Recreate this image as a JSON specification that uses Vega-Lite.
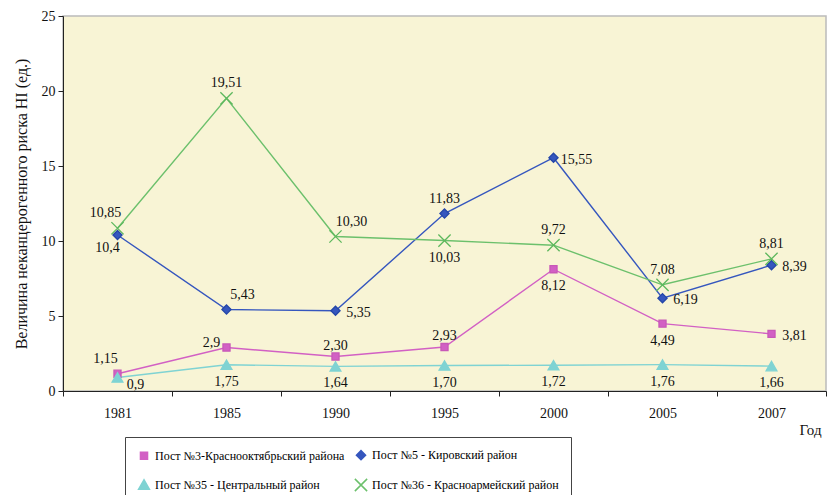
{
  "$schema": "https://vega.github.io/schema/vega-lite/v6.json",
  "width": 763,
  "height": 375,
  "autosize": {"type": "none"},
  "padding": {"left": 63, "top": 16, "right": 1, "bottom": 104},
  "background": "white",
  "config": {
    "font": "Liberation Serif, Times New Roman, serif",
    "view": {"fill": "#F8F4D5", "stroke": "#BBBBBB", "strokeWidth": 1.5},
    "text": {"font": "Liberation Serif, Times New Roman, serif"},
    "axis": {"labelFont": "Liberation Serif, Times New Roman, serif", "titleFont": "Liberation Serif, Times New Roman, serif", "labelColor": "#111", "titleColor": "#111", "domainColor": "#222", "tickColor": "#222", "labelFontSize": 14, "titleFontSize": 14, "titleFontWeight": "normal", "grid": false},
    "legend": {"labelFont": "Liberation Serif, Times New Roman, serif"}
  },
  "data": {"values": [
    {"year": "1981", "post": "3", "series": "Пост №3-Краснооктябрьский района", "value": 1.15, "label": "1,15"},
    {"year": "1985", "post": "3", "series": "Пост №3-Краснооктябрьский района", "value": 2.9, "label": "2,9"},
    {"year": "1990", "post": "3", "series": "Пост №3-Краснооктябрьский района", "value": 2.30, "label": "2,30"},
    {"year": "1995", "post": "3", "series": "Пост №3-Краснооктябрьский района", "value": 2.93, "label": "2,93"},
    {"year": "2000", "post": "3", "series": "Пост №3-Краснооктябрьский района", "value": 8.12, "label": "8,12"},
    {"year": "2005", "post": "3", "series": "Пост №3-Краснооктябрьский района", "value": 4.49, "label": "4,49"},
    {"year": "2007", "post": "3", "series": "Пост №3-Краснооктябрьский района", "value": 3.81, "label": "3,81"},
    {"year": "1981", "post": "5", "series": "Пост №5 - Кировский район", "value": 10.4, "label": "10,4"},
    {"year": "1985", "post": "5", "series": "Пост №5 - Кировский район", "value": 5.43, "label": "5,43"},
    {"year": "1990", "post": "5", "series": "Пост №5 - Кировский район", "value": 5.35, "label": "5,35"},
    {"year": "1995", "post": "5", "series": "Пост №5 - Кировский район", "value": 11.83, "label": "11,83"},
    {"year": "2000", "post": "5", "series": "Пост №5 - Кировский район", "value": 15.55, "label": "15,55"},
    {"year": "2005", "post": "5", "series": "Пост №5 - Кировский район", "value": 6.19, "label": "6,19"},
    {"year": "2007", "post": "5", "series": "Пост №5 - Кировский район", "value": 8.39, "label": "8,39"},
    {"year": "1981", "post": "35", "series": "Пост №35 - Центральный район", "value": 0.9, "label": "0,9"},
    {"year": "1985", "post": "35", "series": "Пост №35 - Центральный район", "value": 1.75, "label": "1,75"},
    {"year": "1990", "post": "35", "series": "Пост №35 - Центральный район", "value": 1.64, "label": "1,64"},
    {"year": "1995", "post": "35", "series": "Пост №35 - Центральный район", "value": 1.70, "label": "1,70"},
    {"year": "2000", "post": "35", "series": "Пост №35 - Центральный район", "value": 1.72, "label": "1,72"},
    {"year": "2005", "post": "35", "series": "Пост №35 - Центральный район", "value": 1.76, "label": "1,76"},
    {"year": "2007", "post": "35", "series": "Пост №35 - Центральный район", "value": 1.66, "label": "1,66"},
    {"year": "1981", "post": "36", "series": "Пост №36 - Красноармейский район", "value": 10.85, "label": "10,85"},
    {"year": "1985", "post": "36", "series": "Пост №36 - Красноармейский район", "value": 19.51, "label": "19,51"},
    {"year": "1990", "post": "36", "series": "Пост №36 - Красноармейский район", "value": 10.30, "label": "10,30"},
    {"year": "1995", "post": "36", "series": "Пост №36 - Красноармейский район", "value": 10.03, "label": "10,03"},
    {"year": "2000", "post": "36", "series": "Пост №36 - Красноармейский район", "value": 9.72, "label": "9,72"},
    {"year": "2005", "post": "36", "series": "Пост №36 - Красноармейский район", "value": 7.08, "label": "7,08"},
    {"year": "2007", "post": "36", "series": "Пост №36 - Красноармейский район", "value": 8.81, "label": "8,81"}
  ]},
  "encoding": {
    "x": {"field": "year", "type": "ordinal", "sort": null,
      "scale": {"type": "band", "paddingInner": 0, "paddingOuter": 0},
      "axis": {"title": "Год", "labelAngle": 0, "tickBand": "extent", "tickSize": 5, "labelPadding": 10, "titleX": 736, "titleY": 38, "titleAlign": "left", "titleBaseline": "middle", "titleFontSize": 15}},
    "y": {"field": "value", "type": "quantitative",
      "scale": {"domain": [0, 25], "nice": false},
      "axis": {"title": "Величина неканцерогенного риска HI (ед.)", "values": [0, 5, 10, 15, 20, 25], "tickSize": 5, "labelPadding": 3, "titlePadding": 12, "titleFontSize": 16}}
  },
  "layer": [
    {
      "mark": {"type": "line", "strokeWidth": 1.4},
      "encoding": {
        "color": {"field": "series", "type": "nominal",
          "scale": {"domain": ["Пост №3-Краснооктябрьский района", "Пост №5 - Кировский район", "Пост №35 - Центральный район", "Пост №36 - Красноармейский район"],
                    "range": ["#D260C4", "#3556BE", "#7FD3D3", "#6CC06C"]},
          "legend": {"title": null, "orient": "none", "legendX": 62, "legendY": 421, "columns": 2, "direction": "horizontal",
            "strokeColor": "#444", "padding": 12, "labelFontSize": 12, "labelLimit": 400, "symbolSize": 90, "rowPadding": 12, "columnPadding": 6, "symbolStrokeWidth": 1.5}}
      }
    },
    {
      "mark": {"type": "point", "filled": true, "opacity": 1, "strokeWidth": 1.3},
      "encoding": {
        "color": {"field": "series", "type": "nominal"},
        "shape": {"field": "series", "type": "nominal",
          "scale": {"domain": ["Пост №3-Краснооктябрьский района", "Пост №5 - Кировский район", "Пост №35 - Центральный район", "Пост №36 - Красноармейский район"],
                    "range": ["square", "diamond", "triangle-up", "M-1,-1L1,1M-1,1L1,-1"]}},
        "stroke": {"field": "series", "type": "nominal",
          "scale": {"domain": ["Пост №3-Краснооктябрьский района", "Пост №5 - Кировский район", "Пост №35 - Центральный район", "Пост №36 - Красноармейский район"],
                    "range": ["#C858B8", "#2446A8", "#7FD3D3", "#5DB85D"]}},
        "size": {"field": "series", "type": "nominal",
          "scale": {"domain": ["Пост №3-Краснооктябрьский района", "Пост №5 - Кировский район", "Пост №35 - Центральный район", "Пост №36 - Красноармейский район"],
                    "range": [50, 150, 110, 200]}}
      }
    },
    {
      "transform": [{"filter": "(datum.post == '36' && (datum.year == '1985' || datum.year == '2000' || datum.year == '2005' || datum.year == '2007')) || (datum.post == '5' && datum.year == '1995')"}],
      "mark": {"type": "text", "fontSize": 14, "dy": -15, "color": "#111"},
      "encoding": {"text": {"field": "label"}}
    },
    {
      "transform": [{"filter": "datum.post == '3' && (datum.year == '1990' || datum.year == '1995')"}],
      "mark": {"type": "text", "fontSize": 14, "dy": -11, "color": "#111"},
      "encoding": {"text": {"field": "label"}}
    },
    {
      "transform": [{"filter": "(datum.post == '36' || datum.post == '3') && datum.year == '1981'"}],
      "mark": {"type": "text", "fontSize": 14, "dx": -12, "dy": -15, "color": "#111"},
      "encoding": {"text": {"field": "label"}}
    },
    {
      "transform": [{"filter": "(datum.post == '36' && datum.year == '1990') || (datum.post == '5' && datum.year == '1985')"}],
      "mark": {"type": "text", "fontSize": 14, "dx": 16, "dy": -15, "color": "#111"},
      "encoding": {"text": {"field": "label"}}
    },
    {
      "transform": [{"filter": "(datum.post == '36' && datum.year == '1995') || (datum.post == '3' && (datum.year == '2000' || datum.year == '2005')) || (datum.post == '35' && datum.year != '1981')"}],
      "mark": {"type": "text", "fontSize": 14, "dy": 17, "color": "#111"},
      "encoding": {"text": {"field": "label"}}
    },
    {
      "transform": [{"filter": "datum.post == '5' && datum.year == '1981'"}],
      "mark": {"type": "text", "fontSize": 14, "dx": -10, "dy": 13, "color": "#111"},
      "encoding": {"text": {"field": "label"}}
    },
    {
      "transform": [{"filter": "datum.post == '35' && datum.year == '1981'"}],
      "mark": {"type": "text", "fontSize": 14, "dx": 18, "dy": 7, "color": "#111"},
      "encoding": {"text": {"field": "label"}}
    },
    {
      "transform": [{"filter": "datum.post == '3' && datum.year == '1985'"}],
      "mark": {"type": "text", "fontSize": 14, "dx": -15, "dy": -5, "color": "#111"},
      "encoding": {"text": {"field": "label"}}
    },
    {
      "transform": [{"filter": "(datum.post == '5' && (datum.year == '1990' || datum.year == '2000' || datum.year == '2005' || datum.year == '2007')) || (datum.post == '3' && datum.year == '2007')"}],
      "mark": {"type": "text", "fontSize": 14, "dx": 23, "dy": 2, "color": "#111"},
      "encoding": {"text": {"field": "label"}}
    }
  ]
}
